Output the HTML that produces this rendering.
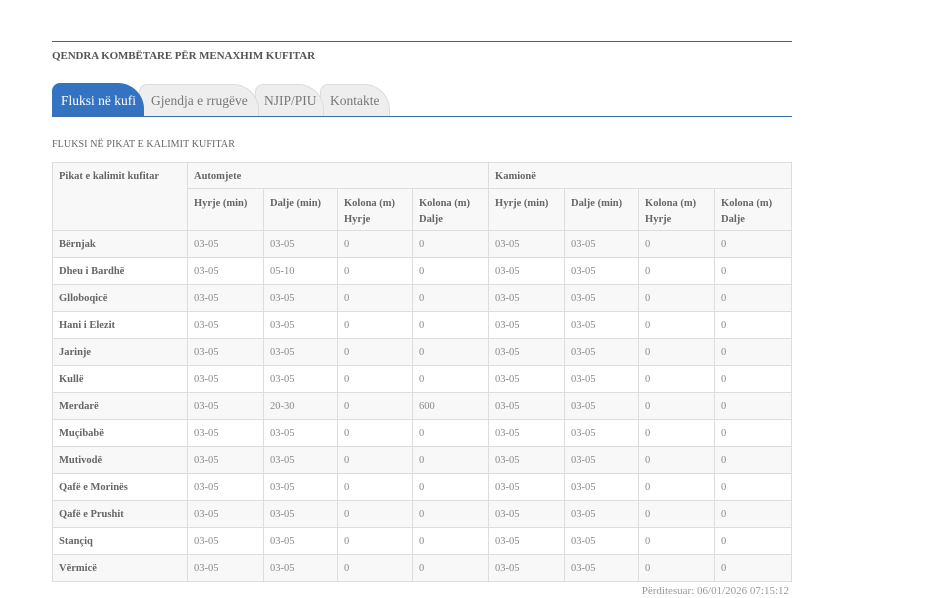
<!DOCTYPE html>
<html>
<head>
<meta charset="utf-8">
<style>
  html,body{margin:0;padding:0;background:#fff;}
  body{width:950px;height:598px;position:relative;overflow:hidden;font-family:"Liberation Serif","DejaVu Serif",serif;}
  .topline{position:absolute;left:52px;top:41px;width:740px;height:1px;background:#5a5f66;}
  .title{position:absolute;left:52px;top:50px;font-size:11px;font-weight:bold;color:#555;white-space:nowrap;letter-spacing:-0.1px;}
  .tab{position:absolute;top:84px;height:32px;box-sizing:border-box;border-radius:8px 26px 0 0;font-size:13.5px;line-height:33px;padding-left:9px;white-space:nowrap;}
  .tab.inactive{background:#eeeeee;border:1px solid #dcdcdc;border-bottom:none;color:#777;line-height:32px;}
  .tab.active{background:#3473c2;color:#fff;top:83px;height:33px;line-height:35px;z-index:3;}
  .tabline{position:absolute;left:52px;top:116px;width:740px;height:1px;background:#3a6db0;z-index:4;}
  .sub{position:absolute;left:52px;top:139px;font-size:10px;color:#666;white-space:nowrap;letter-spacing:0.1px;}
  table{position:absolute;left:52px;top:162px;border-collapse:collapse;table-layout:fixed;width:739px;font-size:10.5px;}
  td,th{border:1px solid #dddddd;padding:0 6px;text-align:left;overflow:hidden;white-space:nowrap;}
  th{font-weight:bold;color:#666;vertical-align:top;line-height:16px;background:#f8f8f8;}
  tr.h1 th{padding-top:6px;height:19px;}
  tr.h2 th{padding-top:7px;height:34px;white-space:normal;}
  tbody td{height:24px;padding-top:2px;line-height:16px;vertical-align:middle;color:#8a8a8a;}
  tbody td:first-child{font-weight:bold;color:#666;}
  tbody tr:nth-child(odd) td{background:#f8f8f8;}
  .foot{position:absolute;right:161px;top:585px;font-size:11px;color:#999;white-space:nowrap;}
</style>
</head>
<body>
<div class="topline"></div>
<div class="title">QENDRA KOMBËTARE PËR MENAXHIM KUFITAR</div>

<div class="tab active" style="left:52px;width:92px;">Fluksi në kufi</div>
<div class="tab inactive" style="left:139px;width:120px;z-index:2;padding-left:11px;">Gjendja e rrugëve</div>
<div class="tab inactive" style="left:255px;width:69px;z-index:1;padding-left:8px;">NJIP/PIU</div>
<div class="tab inactive" style="left:320px;width:70px;z-index:0;padding-left:9px;">Kontakte</div>
<div class="tabline"></div>

<div class="sub">FLUKSI NË PIKAT E KALIMIT KUFITAR</div>

<table>
  <colgroup>
    <col style="width:135px"><col style="width:76px"><col style="width:74px"><col style="width:75px"><col style="width:76px">
    <col style="width:76px"><col style="width:74px"><col style="width:76px"><col style="width:77px">
  </colgroup>
  <thead>
    <tr class="h1">
      <th rowspan="2">Pikat e kalimit kufitar</th>
      <th colspan="4">Automjete</th>
      <th colspan="4">Kamionë</th>
    </tr>
    <tr class="h2">
      <th>Hyrje (min)</th><th>Dalje (min)</th><th>Kolona (m)<br>Hyrje</th><th>Kolona (m)<br>Dalje</th>
      <th>Hyrje (min)</th><th>Dalje (min)</th><th>Kolona (m)<br>Hyrje</th><th>Kolona (m)<br>Dalje</th>
    </tr>
  </thead>
  <tbody>
    <tr><td>Bërnjak</td><td>03-05</td><td>03-05</td><td>0</td><td>0</td><td>03-05</td><td>03-05</td><td>0</td><td>0</td></tr>
    <tr><td>Dheu i Bardhë</td><td>03-05</td><td>05-10</td><td>0</td><td>0</td><td>03-05</td><td>03-05</td><td>0</td><td>0</td></tr>
    <tr><td>Glloboqicë</td><td>03-05</td><td>03-05</td><td>0</td><td>0</td><td>03-05</td><td>03-05</td><td>0</td><td>0</td></tr>
    <tr><td>Hani i Elezit</td><td>03-05</td><td>03-05</td><td>0</td><td>0</td><td>03-05</td><td>03-05</td><td>0</td><td>0</td></tr>
    <tr><td>Jarinje</td><td>03-05</td><td>03-05</td><td>0</td><td>0</td><td>03-05</td><td>03-05</td><td>0</td><td>0</td></tr>
    <tr><td>Kullë</td><td>03-05</td><td>03-05</td><td>0</td><td>0</td><td>03-05</td><td>03-05</td><td>0</td><td>0</td></tr>
    <tr><td>Merdarë</td><td>03-05</td><td>20-30</td><td>0</td><td>600</td><td>03-05</td><td>03-05</td><td>0</td><td>0</td></tr>
    <tr><td>Muçibabë</td><td>03-05</td><td>03-05</td><td>0</td><td>0</td><td>03-05</td><td>03-05</td><td>0</td><td>0</td></tr>
    <tr><td>Mutivodë</td><td>03-05</td><td>03-05</td><td>0</td><td>0</td><td>03-05</td><td>03-05</td><td>0</td><td>0</td></tr>
    <tr><td>Qafë e Morinës</td><td>03-05</td><td>03-05</td><td>0</td><td>0</td><td>03-05</td><td>03-05</td><td>0</td><td>0</td></tr>
    <tr><td>Qafë e Prushit</td><td>03-05</td><td>03-05</td><td>0</td><td>0</td><td>03-05</td><td>03-05</td><td>0</td><td>0</td></tr>
    <tr><td>Stançiq</td><td>03-05</td><td>03-05</td><td>0</td><td>0</td><td>03-05</td><td>03-05</td><td>0</td><td>0</td></tr>
    <tr><td>Vërmicë</td><td>03-05</td><td>03-05</td><td>0</td><td>0</td><td>03-05</td><td>03-05</td><td>0</td><td>0</td></tr>
  </tbody>
</table>

<div class="foot">Përditesuar: 06/01/2026 07:15:12</div>
</body>
</html>
